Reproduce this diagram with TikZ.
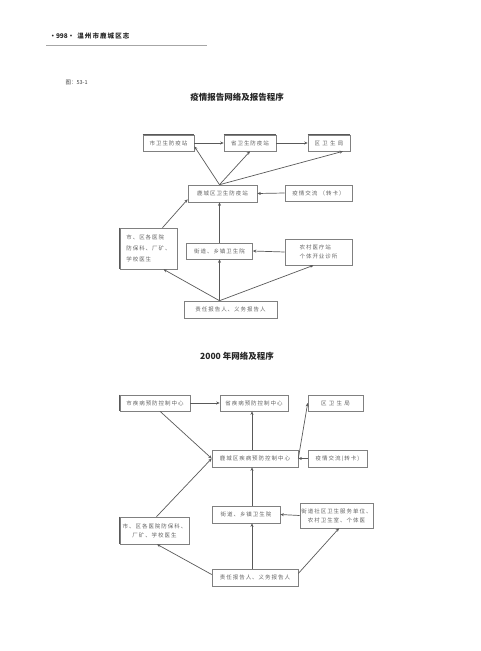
\documentclass[tikz,border=0pt]{standalone}
\usepackage{fontspec}
\usetikzlibrary{arrows.meta,calc}
\newfontfamily\cjk{Noto Sans CJK SC}
\newfontfamily\cjkbox[LetterSpace=18]{Noto Sans CJK SC}
\definecolor{boxline}{gray}{0.5}
\definecolor{boxtext}{gray}{0.38}
\definecolor{arrline}{gray}{0.35}
\tikzset{
  box/.style={draw=boxline, line width=0.6pt, inner sep=1pt, align=center,
    font=\cjkbox\fontsize{5.5}{9}\selectfont, text=boxtext},
  arr/.style={-{Stealth[length=3.5pt,width=3pt]}, draw=arrline, line width=0.7pt},
  edge/.style={draw=gray!70!black, line width=1.1pt}
}
\begin{document}
\begin{tikzpicture}[x=1pt,y=-1pt]
\useasboundingbox (0,0) rectangle (480,651);
% header
\node[anchor=west, font=\cjk\bfseries\fontsize{6.5}{8}\selectfont, text=black!85] (hd) at (46,36) {·998·\ \ 温\,州\,市\,鹿\,城\,区\,志};
\coordinate (hl1) at (46,45);
\coordinate (hl2) at (207,45);
\draw[gray!70, line width=0.8pt] (hl1) -- (hl2);
\node[anchor=west, font=\cjk\fontsize{5.5}{7}\selectfont, text=black!75] (fig) at (62,83) {图：53-1};
\node[font=\cjk\bfseries\fontsize{8.5}{10}\selectfont, text=black!85] (t1) at (237,97) {疫情报告网络及报告程序};
% ---------- diagram 1 ----------
\node[box, minimum width=51pt, minimum height=16pt] (s1) at (168.5,143) {市卫生防疫站};
\node[box, minimum width=52pt, minimum height=16pt] (p1) at (250,143) {省卫生防疫站};
\node[box, minimum width=42pt, minimum height=16pt] (q1) at (329,143) {区\ 卫\ 生\ 局};
\draw[edge] (s1.north west) -- (s1.north east);
\draw[edge] (p1.north west) -- (p1.north east);
\draw[edge] (q1.north west) -- (q1.north east);
\node[box, minimum width=69pt, minimum height=17pt] (l1) at (222.5,193.5) {鹿城区卫生防疫站};
\node[box, minimum width=67pt, minimum height=16pt] (y1) at (318.5,193) {疫情交流\ （转卡）};
\node[box, minimum width=57pt, minimum height=41pt, align=left, font=\cjkbox\fontsize{5.5}{11}\selectfont] (h1) at (148.5,248.5) {市、区各医院\\防保科、厂矿、\\学校医生};
\draw[edge] (h1.north west) -- (h1.south west);
\node[box, minimum width=66pt, minimum height=16pt] (j1) at (219.5,251) {街道、乡镇卫生院};
\node[box, minimum width=67pt, minimum height=26pt, align=left] (n1) at (318.5,252) {农村医疗站\\个体开业诊所};
\node[box, minimum width=93pt, minimum height=17pt] (z1) at (230.5,309.5) {责任报告人、义务报告人};
\coordinate (a1) at ([xshift=-3pt]l1.north);
\coordinate (b1) at ([xshift=-11pt]z1.north);
\draw[arr] (s1.east) -- (p1.west);
\draw[arr] (p1.east) -- (q1.west);
\draw[arr] (a1) -- ([yshift=5pt]s1.south east);
\draw[arr] (a1) -- (p1.south);
\draw[arr] (a1) -- ([xshift=14pt]q1.south);
\draw[arr] (y1.west) -- (l1.east);
\draw[arr] (j1.north) -- (j1.north |- l1.south);
\draw[arr] ([xshift=14pt]h1.north) -- ([yshift=3pt]l1.south west);
\draw[arr] (n1.west) -- (j1.east);
\draw[arr] (b1) -- ([xshift=15pt]h1.south);
\draw[arr] (b1) -- (j1.south);
\draw[arr] (b1) -- ([xshift=-5pt]n1.south);
% ---------- diagram 2 ----------
\node[font=\cjk\bfseries\fontsize{8.5}{10}\selectfont, text=black!85] (t2) at (237,356) {2000 年网络及程序};
\node[box, minimum width=70pt, minimum height=16pt] (s2) at (155,403) {市疾病预防控制中心};
\node[box, minimum width=68pt, minimum height=16pt] (p2) at (254,403) {省疾病预防控制中心};
\node[box, minimum width=55pt, minimum height=16pt] (q2) at (335.5,403) {区\ 卫\ 生\ 局};
\draw[edge] (s2.north west) -- (s2.south west);
\node[box, minimum width=86pt, minimum height=17pt] (l2) at (255,458.5) {鹿城区疾病预防控制中心};
\node[box, minimum width=59pt, minimum height=17pt] (y2) at (337.5,458.5) {疫情交流(转卡)};
\node[box, minimum width=68pt, minimum height=17pt] (j2) at (246,514.5) {街道、乡镇卫生院};
\node[box, minimum width=73pt, minimum height=25pt, inner sep=0pt] (c2) at (336.5,515.5) {街道社区卫生服务单位、\\农村卫生室、个体医};
\node[box, minimum width=69pt, minimum height=27pt, inner sep=0pt] (h2) at (154.5,530.5) {市、区各医院防保科、\\厂矿、学校医生};
\draw[edge] (h2.north west) -- (h2.south west);
\node[box, minimum width=86pt, minimum height=17pt] (z2) at (255,577.5) {责任报告人、义务报告人};
\coordinate (v2) at ([xshift=-3pt]l2.north);
\coordinate (w2) at ([xshift=-3pt]z2.north);
\draw[arr] (s2.east) -- (p2.west);
\draw[arr] (v2) -- (v2 |- p2.south);
\draw[arr] (l2.east) -- (q2.west);
\draw[arr] (y2.west) -- (l2.east);
\draw[arr] ([xshift=5pt]s2.south) -- (l2.west);
\draw[arr] ([xshift=2pt]h2.north) -- (l2.west);
\draw[arr] (v2 |- j2.north) -- (v2 |- l2.south);
\draw[arr] (c2.west) -- (j2.east);
\draw[arr] (w2) -- (w2 |- j2.south);
\draw[arr] ([yshift=3pt]z2.west) -- ([xshift=2.5pt]h2.south);
\draw[arr] ([yshift=4pt]z2.east) -- ([xshift=2.5pt]c2.south);
\end{tikzpicture}
\end{document}
